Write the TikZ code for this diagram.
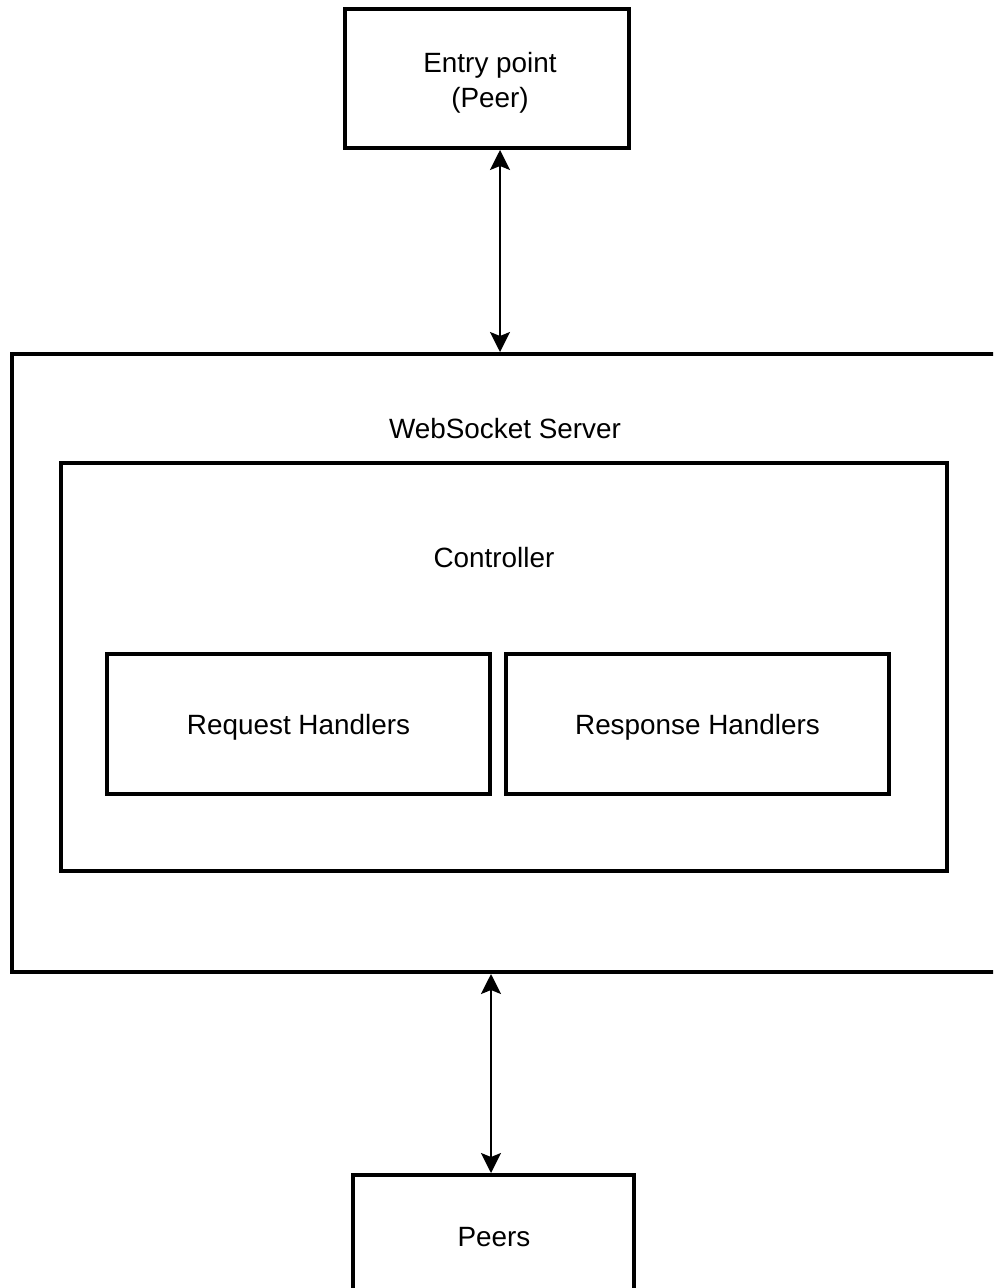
\documentclass[tikz,border=0pt]{standalone}
\usepackage{fontspec}
\setmainfont{Liberation Sans}
\usetikzlibrary{arrows.meta}
\begin{document}
\begin{tikzpicture}[x=0.75pt,y=-0.75pt,
  box/.style={draw=black,line width=3pt,fill=none,inner sep=0pt,anchor=center},
  lbl/.style={inner sep=0pt,align=center,font=\fontsize{20.9}{26}\selectfont},
  link/.style={line width=1.5pt,{Stealth[length=15pt,width=15pt,inset=3pt]}-{Stealth[length=15pt,width=15pt,inset=3pt]}}]
\useasboundingbox (0,0) rectangle (993,1288);
\clip (0,0) rectangle (993,1288);
\fill[white] (0,0) rectangle (993,1288);

% outer components
\node[box,minimum width=284*0.75pt,minimum height=139*0.75pt] (entry) at (487,78.5) {};
\node[lbl] (entrytxt) at (490,82.5) {Entry point\\(Peer)};

\node[box,minimum width=1000*0.75pt,minimum height=618*0.75pt] (ws) at (512,663) {};
\node[lbl] (wstxt) at (505,429) {WebSocket Server};

\node[box,minimum width=886*0.75pt,minimum height=408*0.75pt] (ctrl) at (504,667) {};
\node[lbl] (ctrltxt) at (494,558) {Controller};

\node[box,minimum width=383*0.75pt,minimum height=140*0.75pt] (req) at (298.5,724) {};
\node[lbl] (reqtxt) at (298.5,727.5) {Request Handlers};

\node[box,minimum width=383*0.75pt,minimum height=140*0.75pt] (resp) at (697.5,724) {};
\node[lbl] (resptxt) at (697.5,727.5) {Response Handlers};

\node[box,minimum width=281*0.75pt,minimum height=126*0.75pt] (peers) at (493.5,1238) {};
\node[lbl] (peerstxt) at (494,1237) {Peers};

% links
\coordinate (topx) at (500,0);
\coordinate (botx) at (491,0);
\draw[link] (entry.south -| topx) -- (ws.north -| topx);
\draw[link] (ws.south -| botx) -- (peers.north -| botx);
\end{tikzpicture}
\end{document}
